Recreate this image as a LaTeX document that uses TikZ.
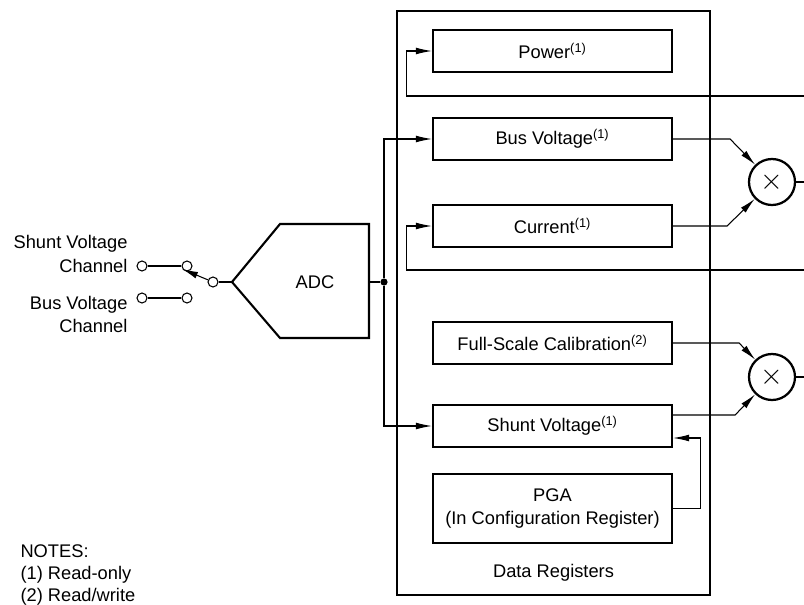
\documentclass[tikz,border=0pt]{standalone}
\usepackage{fontspec}
\setmainfont{Liberation Sans}
\usetikzlibrary{%
  arrows.meta,%
  calc,%
  positioning% wg. " of "
}

\begin{document}
\begin{tikzpicture}
  [
  x=0.025cm, y=-0.025cm,
  font=\fontsize{13}{17}\selectfont, line width=0.75pt, >={Latex[length=4mm,width=1.7mm]},
  reg/.style={rectangle, minimum height=10.5mm, minimum width=59.75mm, draw=black, line width=1.5pt, inner sep=0pt},
  mult/.style={circle, minimum size=11.5mm, draw=black, line width=1.6pt, inner sep=0pt, font=\fontsize{20}{20}\selectfont},
  term/.style={circle, minimum size=2.5mm, draw=black, fill=white, inner sep=0pt},
  lbl/.style={align=right, anchor=east, inner sep=0pt}
  ]
\useasboundingbox (0,0) rectangle (804,605);

% data registers
\node[rectangle, minimum width=78.25mm, minimum height=146mm, draw=black, line width=1.8pt] (regs) at (553.5,303) {};
\node (regslbl) at (553.5,573) {Data Registers};

\node[reg] (power) at (552.5,51) {Power\textsuperscript{(1)}};
\node[reg] (busv) at (552.5,139) {Bus Voltage\textsuperscript{(1)}};
\node[reg] (curr) at (552.5,226) {Current\textsuperscript{(1)}};
\node[reg] (fsc) at (552.5,343) {Full-Scale Calibration\textsuperscript{(2)}};
\node[reg] (shunt) at (552.5,426) {Shunt Voltage\textsuperscript{(1)}};
\node[reg, minimum height=17.25mm, align=center] (pga) at (552.5,508.5) {PGA\\(In Configuration Register)};

% ADC
\draw[line width=1.5pt] (232,282) -- (280,224) -- (369,224) -- (369,338) -- (280,338) -- cycle;
\coordinate (adcin) at (232,282);
\coordinate (adcout) at (369,282);
\node (adc) at (315,282) {ADC};

% input switch
\node[term] (sw) at (213,282) {};
\node[term] (tsh) at (187,266) {};
\node[term] (tbus) at (187,298) {};
\node[term] (insh) at (142,266) {};
\node[term] (inbus) at (142,298) {};
\draw (insh) -- (tsh);
\draw (inbus) -- (tbus);
\draw (sw) -- (adcin);
\coordinate (arm) at (182,269);
\draw[->] (sw) -- (arm);

\node[lbl] (shlbl) at (128,254) {Shunt Voltage\\Channel};
\node[lbl] (buslbl) at (128,314.5) {Bus Voltage\\Channel};

% bus to registers
\node[circle, fill=black, minimum size=1.8mm, inner sep=0pt] (bus) at (384,282) {};
\draw (adcout) -- (bus);
\draw[->] (bus) |- (busv.west);
\draw[->] (bus) |- (shunt.west);

% feedback
\coordinate (pout) at (804,96);
\draw[->] (pout) -| ($(power.west)+(-25,0)$) -- (power.west);
\coordinate (cout) at (804,270);
\draw[->] (cout) -| ($(curr.west)+(-25,0)$) -- (curr.west);

% multipliers
\node[mult] (mul1) at (772,182) {$\times$};
\node[mult] (mul2) at (772,377) {$\times$};
\draw[->] (busv.east) -- ++(57,0) -- (mul1);
\draw[->] (curr.east) -- ++(54,0) -- (mul1);
\draw[->] (fsc.east) -- ++(66,0) -- (mul2);
\draw[->] ($(shunt.east)+(0,-11)$) -- ++(62,0) -- (mul2);
\coordinate (m1out) at (804,182);
\draw (mul1) -- (m1out);
\coordinate (m2out) at (804,377);
\draw (mul2) -- (m2out);

\coordinate (pgain) at ($(shunt.east)+(0,12)$);
\draw[->] (pga.east) -- ++(27,0) |- (pgain);

% notes
\node[align=left, anchor=west, inner sep=0pt, font=\fontsize{13}{15.6}\selectfont] (notes) at (20,575) {NOTES:\\(1) Read-only\\(2) Read/write};
\end{tikzpicture}
\end{document}
